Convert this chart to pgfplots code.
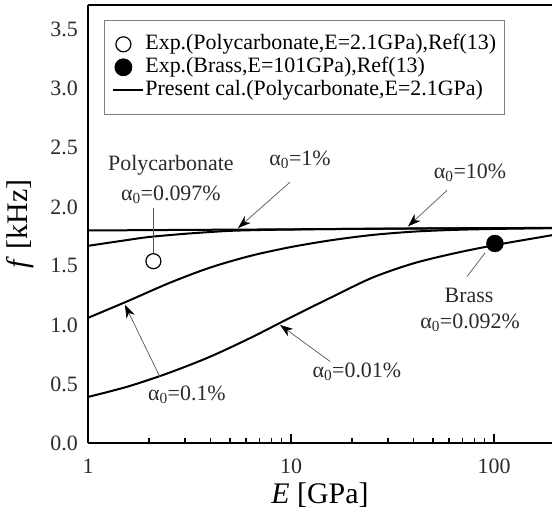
\documentclass[border=0pt]{standalone}
\usepackage{fontspec}
\setmainfont{Liberation Serif}
\usepackage{pgfplots}
\pgfplotsset{compat=1.18}
\usetikzlibrary{arrows.meta}
\definecolor{anno}{HTML}{2A2A2A}
\definecolor{arr}{HTML}{555555}
\tikzset{ann/.style={font=\fontsize{22}{26}\selectfont, text=anno, inner sep=0pt},
 arw/.style={arr, line width=0.7bp, -{Stealth[length=13bp,width=9bp,inset=4bp,color=black]}}}
\pgfplotsset{
 markleg/.style={legend image code/.code={\draw[##1] plot coordinates {(10bp,0bp)};}},
 lineleg/.style={legend image code/.code={\draw[##1] (0bp,0bp) -- (30bp,0bp);}},
}
\newcommand{\az}{α\textsubscript{0}}
\begin{document}
\begin{tikzpicture}
\begin{axis}[
 at={(0,0)}, anchor=south west,
 scale only axis, width=464bp, height=438bp,
 xmode=log, xmin=1, xmax=193, ymin=0, ymax=3.71,
 axis x line*=bottom, axis y line*=left,
 axis line style={line width=1.8bp, black},
 xtick={1,10,100}, xticklabels={1,10,100},
 minor xtick={2,3,4,5,6,7,8,9,20,30,40,50,60,70,80,90},
 ytick={0,0.5,1,1.5,2,2.5,3,3.5},
 yticklabel style={/pgf/number format/fixed, /pgf/number format/fixed zerofill, /pgf/number format/precision=1},
 tick align=inside,
 x tick style={black, line width=1.3bp},
 major tick length=9bp, minor tick length=5bp,
 y tick style={draw=none},
 tick label style={font=\fontsize{22}{26}\selectfont, text=anno},
 /pgf/number format/assume math mode=true,
 xticklabel style={inner sep=0pt, yshift=-16bp, anchor=north},
 yticklabel style={inner sep=0pt, xshift=-10bp, anchor=east},
 xlabel={\textit{E} [GPa]}, ylabel={\textit{f} [kHz]},
 label style={font=\fontsize{30}{34}\selectfont},
 x label style={at={(axis description cs:0.5,0)}, anchor=center, yshift=-52bp},
 y label style={at={(axis description cs:-0.147,0.5)}, anchor=center},
 legend cell align=left,
 legend style={at={(axis description cs:0.0345,0.966)}, anchor=north west,
   draw=gray, line width=0.8bp, font=\fontsize{22}{25}\selectfont,
   row sep=3bp, inner xsep=8bp, inner ysep=14bp, column sep=1bp,
   nodes={inner sep=0pt, text height=15bp, text depth=5bp}},
]
\addplot[only marks, mark=o, mark size=7.5bp, line width=1.2bp, black, markleg]
  coordinates {(2.1,1.54)};
\addlegendentry{Exp.(Polycarbonate,E=2.1GPa),Ref(13)}
\addplot[only marks, mark=*, mark size=8.5bp, black, markleg]
  coordinates {(101,1.69)};
\addlegendentry{Exp.(Brass,E=101GPa),Ref(13)}
% alpha0 = 10%
\addplot[black, line width=2bp, smooth, lineleg]
  coordinates {(1,1.80) (3,1.805) (10,1.81) (30,1.815) (100,1.82) (193,1.822)};
\addlegendentry{Present cal.(Polycarbonate,E=2.1GPa)}
% alpha0 = 1%
\addplot[black, line width=2bp, smooth, forget plot]
  coordinates {(1,1.67) (1.5,1.715) (2,1.745) (3,1.772) (4,1.787) (5,1.797) (7,1.804) (10,1.808) (20,1.814) (50,1.818) (100,1.82) (193,1.821)};
% alpha0 = 0.1%
\addplot[black, line width=2bp, smooth, forget plot]
  coordinates {(1,1.06) (1.585,1.205) (2.512,1.355) (3.981,1.485) (6.31,1.585) (10,1.66) (15.85,1.718) (25.12,1.762) (39.81,1.79) (63.1,1.805) (100,1.813) (193,1.82)};
% alpha0 = 0.01%
\addplot[black, line width=2bp, smooth, forget plot]
  coordinates {(1,0.39) (1.585,0.48) (2.512,0.595) (3.981,0.73) (6.31,0.89) (10,1.065) (15.85,1.235) (25.12,1.40) (39.81,1.52) (63.1,1.605) (100,1.675) (158.5,1.735) (193,1.76)};
% annotations
\node[ann] at (axis cs:2.56,2.356) {Polycarbonate};
\node[ann] at (axis cs:2.56,2.10) {\az=0.097\%};
\draw[arr, line width=0.7bp] (axis cs:2.09,1.99) -- (axis cs:2.09,1.61);
\node[ann] at (axis cs:11.07,2.40) {\az=1\%};
\draw[arw] (axis cs:9.89,2.21) -- (axis cs:5.48,1.82);
\node[ann] at (axis cs:76.2,2.29) {\az=10\%};
\draw[arw] (axis cs:58.7,2.14) -- (axis cs:37.7,1.835);
\node[ann] at (axis cs:75.3,1.25) {Brass};
\node[ann] at (axis cs:76.2,1.02) {\az=0.092\%};
\draw[arr, line width=0.7bp] (axis cs:73.6,1.41) -- (axis cs:90.3,1.61);
\node[ann] at (axis cs:3.07,0.41) {\az=0.1\%};
\draw[arw] (axis cs:2.26,0.56) -- (axis cs:1.52,1.17);
\node[ann] at (axis cs:21.1,0.60) {\az=0.01\%};
\draw[arw] (axis cs:15.6,0.69) -- (axis cs:8.83,1.0);
\end{axis}
\draw[line width=2bp, black] (0bp,438bp) -- (464bp,438bp);
\pgfresetboundingbox
\path (-88bp,-69bp) rectangle (464bp,443bp);
\end{tikzpicture}
\end{document}
